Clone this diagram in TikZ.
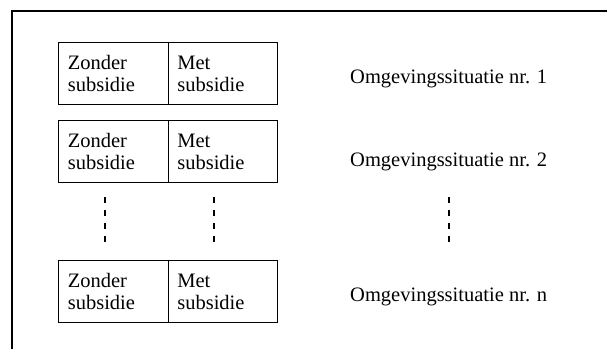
\documentclass[tikz,border=0pt]{standalone}
\usepackage{fontspec}
\setmainfont{Liberation Serif}
\begin{document}
\begin{tikzpicture}[x=1pt,y=-1pt,
  cell/.style={draw=black,line width=1.1pt,minimum width=109.5pt,minimum height=62pt,
    text width=91pt,align=left,inner sep=0pt,anchor=north west,
    font=\fontsize{20.5pt}{22pt}\selectfont},
  situ/.style={anchor=base west,inner sep=0pt,font=\fontsize{20.5pt}{22pt}\selectfont},
  dots/.style={line width=1.1pt,dash pattern=on 6pt off 7pt}]
\useasboundingbox (0,0) rectangle (607,349);
\draw[line width=1.2pt] (12,349) -- (12,11) -- (607,11);
% row 1
\node[cell] (z1) at (58,42) {Zonder\\subsidie};
\node[cell] (m1) at (167.5,42) {Met\\subsidie};
\node[situ] (s1) at (350,83) {Omgevingssituatie nr. 1};
% row 2
\node[cell] (z2) at (58,120) {Zonder\\subsidie};
\node[cell] (m2) at (167.5,120) {Met\\subsidie};
\node[situ] (s2) at (350,166) {Omgevingssituatie nr. 2};
% row n
\node[cell] (z3) at (58,260) {Zonder\\subsidie};
\node[cell] (m3) at (167.5,260) {Met\\subsidie};
\node[situ] (s3) at (350,301) {Omgevingssituatie nr. n};
% dashed continuation marks
\coordinate (a1) at (105,197); \coordinate (a2) at (105,243);
\coordinate (b1) at (214,197); \coordinate (b2) at (214,243);
\coordinate (c1) at (449,197); \coordinate (c2) at (449,243);
\draw[dots] (a1) -- (a2);
\draw[dots] (b1) -- (b2);
\draw[dots] (c1) -- (c2);
\end{tikzpicture}
\end{document}
